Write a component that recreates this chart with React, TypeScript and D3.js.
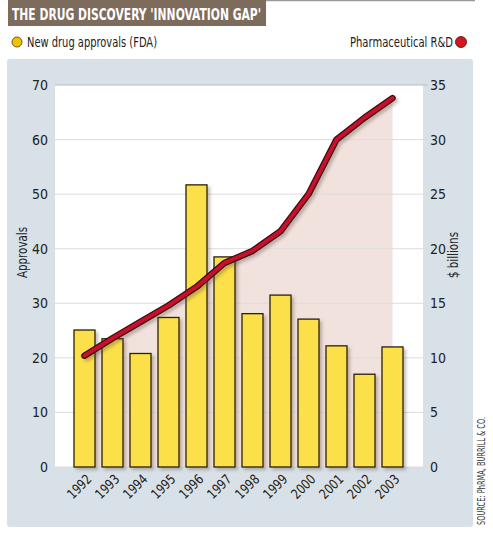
import React, { useEffect, useRef } from 'react';
import * as d3 from 'd3';

const years = ['1992', '1993', '1994', '1995', '1996', '1997', '1998', '1999', '2000', '2001', '2002', '2003'];
const approvals = [25.1, 23.5, 20.8, 27.4, 51.7, 38.5, 28.1, 31.5, 27.1, 22.2, 17.0, 22.0];
const rndBillions = [10.2, 11.8, 13.3, 14.8, 16.5, 18.7, 19.8, 21.6, 25.0, 30.0, 32.0, 33.8];
const leftTicks = [0, 10, 20, 30, 40, 50, 60, 70];
const rightTicks = [0, 5, 10, 15, 20, 25, 30, 35];

const W = 493;
const H = 546;
const FONT = "'DejaVu Sans Condensed', 'Roboto', sans-serif";

const App: React.FC = () => {
    const svgRef = useRef<SVGSVGElement | null>(null);

    useEffect(() => {
        if (svgRef.current) drawChart();
    }, []);

    const drawChart = () => {
        const svg = d3.select(svgRef.current);
        svg.selectAll('*').remove();

        const plot = { left: 55, right: 423, top: 85, bottom: 467 };

        const defs = svg.append('defs');
        const shadow = defs.append('filter').attr('id', 'shadow').attr('x', '-20%').attr('y', '-20%').attr('width', '160%').attr('height', '160%');
        shadow.append('feDropShadow').attr('dx', 2.5).attr('dy', 2.5).attr('stdDeviation', 1.5).attr('flood-color', '#5a4a3a').attr('flood-opacity', 0.35);

        // squeeze text to the width it has in the original
        const fit = (sel: d3.Selection<SVGTextElement, unknown, null, undefined>, len: number) =>
            sel.attr('textLength', len).attr('lengthAdjust', 'spacingAndGlyphs');

        // title bar
        svg.append('line').attr('x1', 266).attr('x2', 475).attr('y1', 0.5).attr('y2', 0.5).attr('stroke', '#9a9a9a').attr('stroke-width', 1.5);
        svg.append('rect').attr('x', 8).attr('y', 0).attr('width', 258).attr('height', 26).attr('fill', '#7d6b5c');
        fit(svg.append('text').attr('x', 12).attr('y', 19.5).attr('fill', '#fff').attr('font-family', FONT)
            .attr('font-weight', 'bold').attr('font-size', 16).text("THE DRUG DISCOVERY 'INNOVATION GAP'"), 249);

        // legend
        svg.append('circle').attr('cx', 17).attr('cy', 42).attr('r', 5).attr('fill', '#f2c200').attr('stroke', '#4a3a10').attr('stroke-width', 0.8);
        fit(svg.append('text').attr('x', 27).attr('y', 47).attr('font-family', FONT).attr('font-size', 14).attr('fill', '#222')
            .text('New drug approvals (FDA)'), 130);
        svg.append('circle').attr('cx', 461).attr('cy', 42).attr('r', 5.5).attr('fill', '#d4161e').attr('stroke', '#4a0a0a').attr('stroke-width', 0.8);
        fit(svg.append('text').attr('x', 350).attr('y', 47).attr('font-family', FONT).attr('font-size', 14).attr('fill', '#222')
            .text('Pharmaceutical R&D'), 103);

        // panel
        svg.append('rect').attr('x', 7).attr('y', 59).attr('width', 466).attr('height', 468).attr('rx', 3).attr('fill', '#d8e0e8');
        svg.append('rect').attr('x', plot.left).attr('y', plot.top).attr('width', plot.right - plot.left).attr('height', plot.bottom - plot.top).attr('fill', '#fff');

        const x = d3.scaleBand<string>().domain(years).range([70.5, 406.5]).paddingInner(0.25).paddingOuter(0.125);
        const yL = d3.scaleLinear().domain([0, 70]).range([plot.bottom, plot.top]);
        const yR = d3.scaleLinear().domain([0, 35]).range([plot.bottom, plot.top]);
        const cx = (d: string) => (x(d) ?? 0) + x.bandwidth() / 2;

        // area under R&D line
        const area = d3.area<number>().x((_, i) => cx(years[i])).y0(plot.bottom).y1((d) => yR(d));
        svg.append('path').attr('d', area(rndBillions)).attr('fill', '#f2e2dd');

        // gridlines
        svg.append('g').selectAll('line').data(leftTicks).enter().append('line')
            .attr('x1', plot.left).attr('x2', plot.right + 5)
            .attr('y1', (d) => yL(d)).attr('y2', (d) => yL(d))
            .attr('stroke', (d) => (d === 70 ? '#b8bcc0' : '#dcdcdc')).attr('stroke-width', 1);

        // left ticks
        svg.append('g').selectAll('text').data(leftTicks).enter().append('text')
            .attr('x', 48).attr('y', (d) => yL(d) + 5).attr('text-anchor', 'end')
            .attr('font-family', FONT).attr('font-size', 14).attr('fill', '#222').text((d) => d);
        // right ticks
        svg.append('g').selectAll('text').data(rightTicks).enter().append('text')
            .attr('x', 430).attr('y', (d) => yR(d) + 5).attr('text-anchor', 'start')
            .attr('font-family', FONT).attr('font-size', 14).attr('fill', '#222').text((d) => d);

        // axis titles
        fit(svg.append('text').attr('transform', 'translate(27, 278) rotate(-90)')
            .attr('font-family', FONT).attr('font-size', 14.5).attr('fill', '#222').text('Approvals'), 51);
        fit(svg.append('text').attr('transform', 'translate(458, 278) rotate(-90)')
            .attr('font-family', FONT).attr('font-size', 14.5).attr('fill', '#222').text('$ billions'), 46);

        // bars
        svg.append('g').selectAll('rect').data(approvals).enter().append('rect')
            .attr('x', (_, i) => x(years[i]) ?? 0).attr('y', (d) => yL(d))
            .attr('width', x.bandwidth()).attr('height', (d) => plot.bottom - yL(d))
            .attr('fill', '#fbe04a').attr('stroke', '#2a2010').attr('stroke-width', 1.3)
            .attr('filter', 'url(#shadow)');

        // R&D line
        const line = d3.line<number>().x((_, i) => cx(years[i])).y((d) => yR(d));
        svg.append('path').attr('d', line(rndBillions)).attr('fill', 'none').attr('stroke', '#3a0808')
            .attr('stroke-width', 6.5).attr('stroke-linecap', 'round').attr('stroke-linejoin', 'round').attr('filter', 'url(#shadow)');
        svg.append('path').attr('d', line(rndBillions)).attr('fill', 'none').attr('stroke', '#c8102e')
            .attr('stroke-width', 4).attr('stroke-linecap', 'round').attr('stroke-linejoin', 'round');

        // year labels
        svg.append('g').selectAll('text').data(years).enter().append('text')
            .attr('transform', (d) => `translate(${cx(d) + 8}, ${plot.bottom + 13}) rotate(-45)`)
            .attr('text-anchor', 'end').attr('font-family', FONT).attr('font-size', 13.5).attr('fill', '#222')
            .attr('textLength', 28).attr('lengthAdjust', 'spacingAndGlyphs').text((d) => d);

        // source
        fit(svg.append('text').attr('transform', 'translate(485, 525) rotate(-90)')
            .attr('font-family', FONT).attr('font-size', 11).attr('fill', '#333')
            .text('SOURCE: PhRMA, BURRILL & CO.'), 108);
    };

    return <svg ref={svgRef} width={W} height={H} style={{ position: 'absolute', left: 0, top: 0, background: '#fff' }}></svg>;
};

export default App;
